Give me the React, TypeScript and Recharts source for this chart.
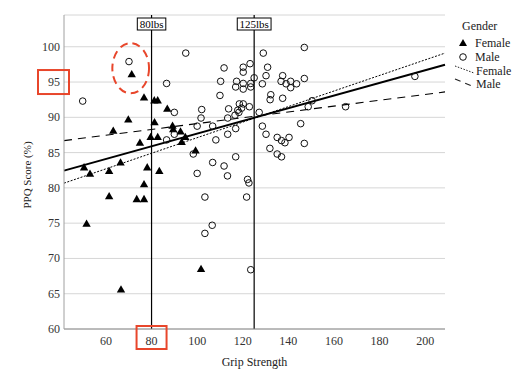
import React from 'react';
import {
  ScatterChart, Scatter, XAxis, YAxis, CartesianGrid, ReferenceLine, ReferenceArea,
} from 'recharts';

// ---------- data ----------
const femaleX = [71.3, 76.7, 81.2, 82.7, 86.9, 69.8, 63.2, 81.3, 74.9, 79.6, 82.7, 89.2, 89.5, 92.7, 94.8, 93.2, 99.3, 50.4, 53.0, 61.4, 66.4, 78.1, 83.4, 76.7, 61.4, 73.5, 76.7, 51.5, 66.6, 101.7];
const femaleY = [96.1, 92.8, 92.4, 92.4, 91.2, 89.7, 88.1, 89.3, 86.4, 87.2, 87.2, 88.8, 88.3, 88.0, 87.2, 86.5, 85.3, 82.9, 82.0, 82.4, 83.6, 82.9, 82.4, 80.5, 78.8, 78.4, 78.4, 74.9, 65.6, 68.5];

const maleX = [70.1, 49.8, 95.0, 86.6, 90.0, 102.0, 101.7, 100.0, 106.8, 113.8, 113.4, 113.4, 108.2, 86.6, 90.0, 98.3, 106.8, 111.8, 100.0, 113.3, 111.8, 110.3, 110.0, 147.0, 129.0, 120.2, 123.2, 130.9, 120.2, 117.3, 116.9, 120.2, 120.2, 123.5, 123.5, 125.0, 128.6, 130.2, 137.5, 136.8, 141.0, 139.0, 141.0, 143.6, 147.0, 132.3, 132.0, 137.5, 118.5, 120.2, 117.8, 119.5, 122.9, 116.6, 118.3, 127.2, 150.4, 148.7, 165.1, 195.5, 116.9, 128.6, 130.2, 135.1, 140.3, 137.0, 138.5, 145.4, 147.0, 131.9, 135.1, 137.0, 116.9, 122.1, 122.7, 103.4, 121.7, 106.6, 103.4, 123.5];
const maleY = [97.9, 92.3, 99.1, 94.8, 90.7, 91.1, 89.9, 88.75, 88.75, 91.2, 89.9, 87.6, 86.8, 86.8, 87.6, 84.8, 83.6, 83.1, 82.05, 81.7, 97.0, 95.1, 93.1, 99.9, 99.1, 97.1, 97.6, 97.1, 96.4, 95.1, 94.3, 94.8, 94.0, 94.8, 94.3, 95.6, 94.75, 95.9, 95.9, 95.1, 95.1, 94.75, 94.2, 94.75, 95.5, 93.2, 92.5, 92.7, 91.9, 91.9, 91.0, 91.3, 91.5, 90.3, 90.7, 90.7, 92.35, 91.5, 91.5, 95.8, 88.4, 88.75, 87.6, 87.15, 87.15, 86.7, 86.4, 89.1, 86.3, 85.6, 84.8, 84.4, 84.4, 81.2, 80.7, 78.7, 78.7, 74.7, 73.55, 68.4];

const xDomain: [number, number] = [41.6, 208.7];
const yDomain: [number, number] = [60, 104.5];
const xTicks = [60, 80, 100, 120, 140, 160, 180, 200];
const yTicks = [60, 65, 70, 75, 80, 85, 90, 95, 100];

// fit lines: endpoints [x, y]
const totalFit = [[41.6, 82.45], [208.7, 97.45]];
const femaleFit = [[41.6, 80.67], [208.7, 99.1]];
const maleFit = [[41.6, 86.7], [208.7, 93.6]];

const refLinesX = [80, 125];
const refLineLabels = ['80lbs', '125lbs'];

// highlighted annotations
const highlightY = 95;
const highlightX = 80;
const ellipseArea = { x1: 62.8, x2: 78.9, y1: 93.4, y2: 100.5 };

const legendTitle = 'Gender';
const legendLabels = ['Female', 'Male', 'Female', 'Male'];

const femaleData = femaleX.map((x, i) => ({ x, y: femaleY[i] }));
const maleData = maleX.map((x, i) => ({ x, y: maleY[i] }));

const FONT = '"Liberation Serif", "Times New Roman", serif';
const RED = '#e8462b';

const Triangle = (props: any) => {
  const { cx, cy } = props;
  if (cx == null || cy == null) return <g />;
  return <polygon points={`${cx},${cy - 4.3} ${cx - 4.2},${cy + 3} ${cx + 4.2},${cy + 3}`} fill="#000" />;
};
const Ring = (props: any) => {
  const { cx, cy } = props;
  if (cx == null || cy == null) return <g />;
  return <circle cx={cx} cy={cy} r={3.3} fill="none" stroke="#111" strokeWidth={1} />;
};

const YTick = (props: any) => {
  const { x, y, payload } = props;
  return (
    <g>
      <text x={x} y={y} textAnchor="end" dominantBaseline="central" fontFamily={FONT} fontSize={12} fill="#333">{payload.value}</text>
      {payload.value === highlightY && (
        <rect x={x - 22} y={y - 12} width={31} height={24} fill="none" stroke={RED} strokeWidth={2} />
      )}
    </g>
  );
};
const XTick = (props: any) => {
  const { x, y, payload } = props;
  return (
    <g>
      <text x={x} y={y} textAnchor="middle" dy="0.71em" fontFamily={FONT} fontSize={12} fill="#333">{payload.value}</text>
      {payload.value === highlightX && (
        <rect x={x - 15} y={y - 10} width={30} height={23} fill="none" stroke={RED} strokeWidth={2} />
      )}
    </g>
  );
};

const BoxLabel = (props: any) => {
  const { viewBox, text } = props;
  if (!viewBox) return null;
  const cx = viewBox.x;
  const top = viewBox.y;
  const w = text.length * 5.3 + 2;
  return (
    <g>
      <rect x={cx - w / 2} y={top + 3} width={w} height={12} fill="#fff" stroke="#000" strokeWidth={1} />
      <text x={cx} y={top + 13} textAnchor="middle" fontFamily={FONT} fontSize={11} fill="#000">{text}</text>
    </g>
  );
};

const YLabel = (props: any) => {
  const { viewBox } = props;
  if (!viewBox) return null;
  const x = viewBox.x + 27;
  const y = viewBox.y + viewBox.height / 2 + 3;
  return (
    <text x={x} y={y} transform={`rotate(-90, ${x}, ${y})`} textAnchor="middle" dominantBaseline="central" fontFamily={FONT} fontSize={11} fill="#222">PPQ Score (%)</text>
  );
};

const EllipseShape = (props: any) => {
  const { x, y, width, height } = props;
  return (
    <ellipse cx={x + width / 2} cy={y + height / 2} rx={width / 2} ry={height / 2} fill="none" stroke={RED} strokeWidth={2} strokeDasharray="8 5" />
  );
};

const Legend = () => (
  <svg width={80} height={100} style={{ position: 'absolute', left: 450, top: 12 }}>
    <text x={12} y={14} fontFamily={FONT} fontSize={12} fill="#222" dominantBaseline="central">{legendTitle}</text>
    <polygon points="13,27 9,34 17,34" fill="#000" />
    <text x={25} y={31} fontFamily={FONT} fontSize={12} fill="#222" dominantBaseline="central">{legendLabels[0]}</text>
    <circle cx={13} cy={45} r={3.3} fill="none" stroke="#111" />
    <text x={25} y={45} fontFamily={FONT} fontSize={12} fill="#222" dominantBaseline="central">{legendLabels[1]}</text>
    <line x1={5} y1={54} x2={24} y2={61} stroke="#222" strokeWidth={1} strokeDasharray="1.5 1.5" />
    <text x={26} y={59} fontFamily={FONT} fontSize={12} fill="#222" dominantBaseline="central">{legendLabels[2]}</text>
    <line x1={5} y1={67} x2={22} y2={74} stroke="#222" strokeWidth={1.2} strokeDasharray="6 5" />
    <text x={26} y={72} fontFamily={FONT} fontSize={12} fill="#222" dominantBaseline="central">{legendLabels[3]}</text>
  </svg>
);

const seg = (pts: number[][]) => [{ x: pts[0][0], y: pts[0][1] }, { x: pts[1][0], y: pts[1][1] }];

export default function App() {
  return (
    <div style={{ position: 'absolute', left: 0, top: 0, width: 526, height: 375, background: '#fff' }}>
      <ScatterChart width={526} height={375} margin={{ top: 15, right: 81, bottom: 0, left: 0 }}>
        <CartesianGrid vertical={false} stroke="#d6d6d6" strokeWidth={1} />
        <XAxis
          type="number" dataKey="x" domain={xDomain} ticks={xTicks} allowDataOverflow
          height={46} tickSize={0} tickMargin={7} tick={<XTick />} stroke="#8a8a8a"
          label={{ value: 'Grip Strength', position: 'insideBottom', offset: 9, style: { fontFamily: FONT, fontSize: 12, fill: '#222' } }}
        />
        <YAxis
          type="number" dataKey="y" domain={yDomain} ticks={yTicks} allowDataOverflow
          width={64} tickSize={0} tickMargin={4} tick={<YTick />} stroke="#a0a0a0"
          label={<YLabel />}
        />
        {refLinesX.map((v, i) => (
          <ReferenceLine key={v} x={v} stroke="#000" strokeWidth={1.2} label={<BoxLabel text={refLineLabels[i]} />} />
        ))}
        <ReferenceLine segment={seg(maleFit)} stroke="#000" strokeWidth={1.1} strokeDasharray="8 6" ifOverflow="visible" />
        <ReferenceLine segment={seg(femaleFit)} stroke="#000" strokeWidth={1} strokeDasharray="2 1.5" ifOverflow="visible" />
        <ReferenceLine segment={seg(totalFit)} stroke="#000" strokeWidth={2} ifOverflow="visible" />
        <Scatter name="Female" data={femaleData} shape={<Triangle />} isAnimationActive={false} />
        <Scatter name="Male" data={maleData} shape={<Ring />} isAnimationActive={false} />
        <ReferenceArea {...ellipseArea} shape={<EllipseShape />} ifOverflow="visible" />
      </ScatterChart>
      <Legend />
    </div>
  );
}
